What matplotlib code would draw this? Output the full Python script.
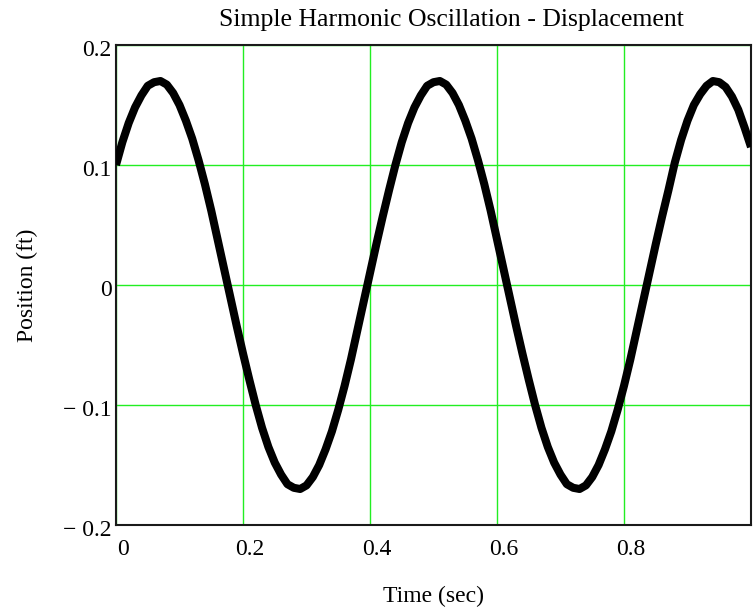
import numpy as np
import matplotlib.pyplot as plt
from matplotlib.transforms import ScaledTranslation

# ------------------------------------------------------------------
# Data (time step 0.01 s)
# ------------------------------------------------------------------
t_sec = np.arange(101) * 0.01
x_ft = np.array([
    # 0.00 - 0.43
    0.100, 0.119, 0.135, 0.148, 0.158, 0.166, 0.169, 0.170, 0.167, 0.160,
    0.150, 0.137, 0.122, 0.104, 0.084, 0.062, 0.038, 0.014, -0.010, -0.034,
    -0.057, -0.079, -0.100, -0.119, -0.135, -0.148, -0.158, -0.166, -0.169, -0.170,
    -0.167, -0.160, -0.150, -0.137, -0.122, -0.104, -0.084, -0.062, -0.038, -0.014,
    0.010, 0.034, 0.057, 0.079,
    # 0.44 - 0.87
    0.100, 0.119, 0.135, 0.148, 0.158, 0.166, 0.169, 0.170, 0.167, 0.160,
    0.150, 0.137, 0.122, 0.104, 0.084, 0.062, 0.038, 0.014, -0.010, -0.034,
    -0.057, -0.079, -0.100, -0.119, -0.135, -0.148, -0.158, -0.166, -0.169, -0.170,
    -0.167, -0.160, -0.150, -0.137, -0.122, -0.104, -0.084, -0.062, -0.038, -0.014,
    0.010, 0.034, 0.057, 0.079,
    # 0.88 - 1.00
    0.102, 0.121, 0.137, 0.150, 0.159, 0.166, 0.170, 0.169, 0.165, 0.157,
    0.146, 0.131, 0.115,
])

x_ticks = [0, 0.2, 0.4, 0.6, 0.8, 1.0]
x_ticklabels = ['0', '0.2', '0.4', '0.6', '0.8', '1']
y_ticks = [-0.2, -0.1, 0, 0.1, 0.2]
y_ticklabels = ['\u2212 0.2', '\u2212 0.1', '0', '0.1', '0.2']

# ------------------------------------------------------------------
plt.rcParams['font.family'] = ['Liberation Serif', 'DejaVu Serif']

fig = plt.figure(figsize=(7.54, 6.10), dpi=100)
ax = fig.add_axes([116 / 754, 85 / 610, 635 / 754, 480 / 610])

ax.plot(t_sec, x_ft, color='black', linewidth=5.8, solid_capstyle='butt',
        solid_joinstyle='round', zorder=3)

ax.set_xlim(0, 1)
ax.set_ylim(-0.2, 0.2)
ax.set_xticks(x_ticks)
ax.set_xticklabels(x_ticklabels)
ax.set_yticks(y_ticks)
ax.set_yticklabels(y_ticklabels)
ax.tick_params(length=0, labelsize=17, pad=3)
ax.tick_params(axis='x', pad=10)
ax.grid(True, color='#22ee22', linewidth=1.0, zorder=1)

# Mathcad puts the x labels slightly right of the grid line
for lab in ax.get_xticklabels():
    lab.set_transform(lab.get_transform() + ScaledTranslation(0.07, 0, fig.dpi_scale_trans))
for lab in ax.get_yticklabels():
    lab.set_transform(lab.get_transform() + ScaledTranslation(0, -0.03, fig.dpi_scale_trans))

for side in ['left', 'bottom', 'right', 'top']:
    ax.spines[side].set_linewidth(1.5)
    ax.spines[side].set_color('#1a1a1a')

ax.set_title('Simple Harmonic Oscillation - Displacement', fontsize=18.5, pad=14, x=0.529)
ax.set_xlabel('Time (sec)', fontsize=17, labelpad=19)
ax.set_ylabel('Position (ft)', fontsize=17, labelpad=18)

fig.savefig('out.png', dpi=100)
